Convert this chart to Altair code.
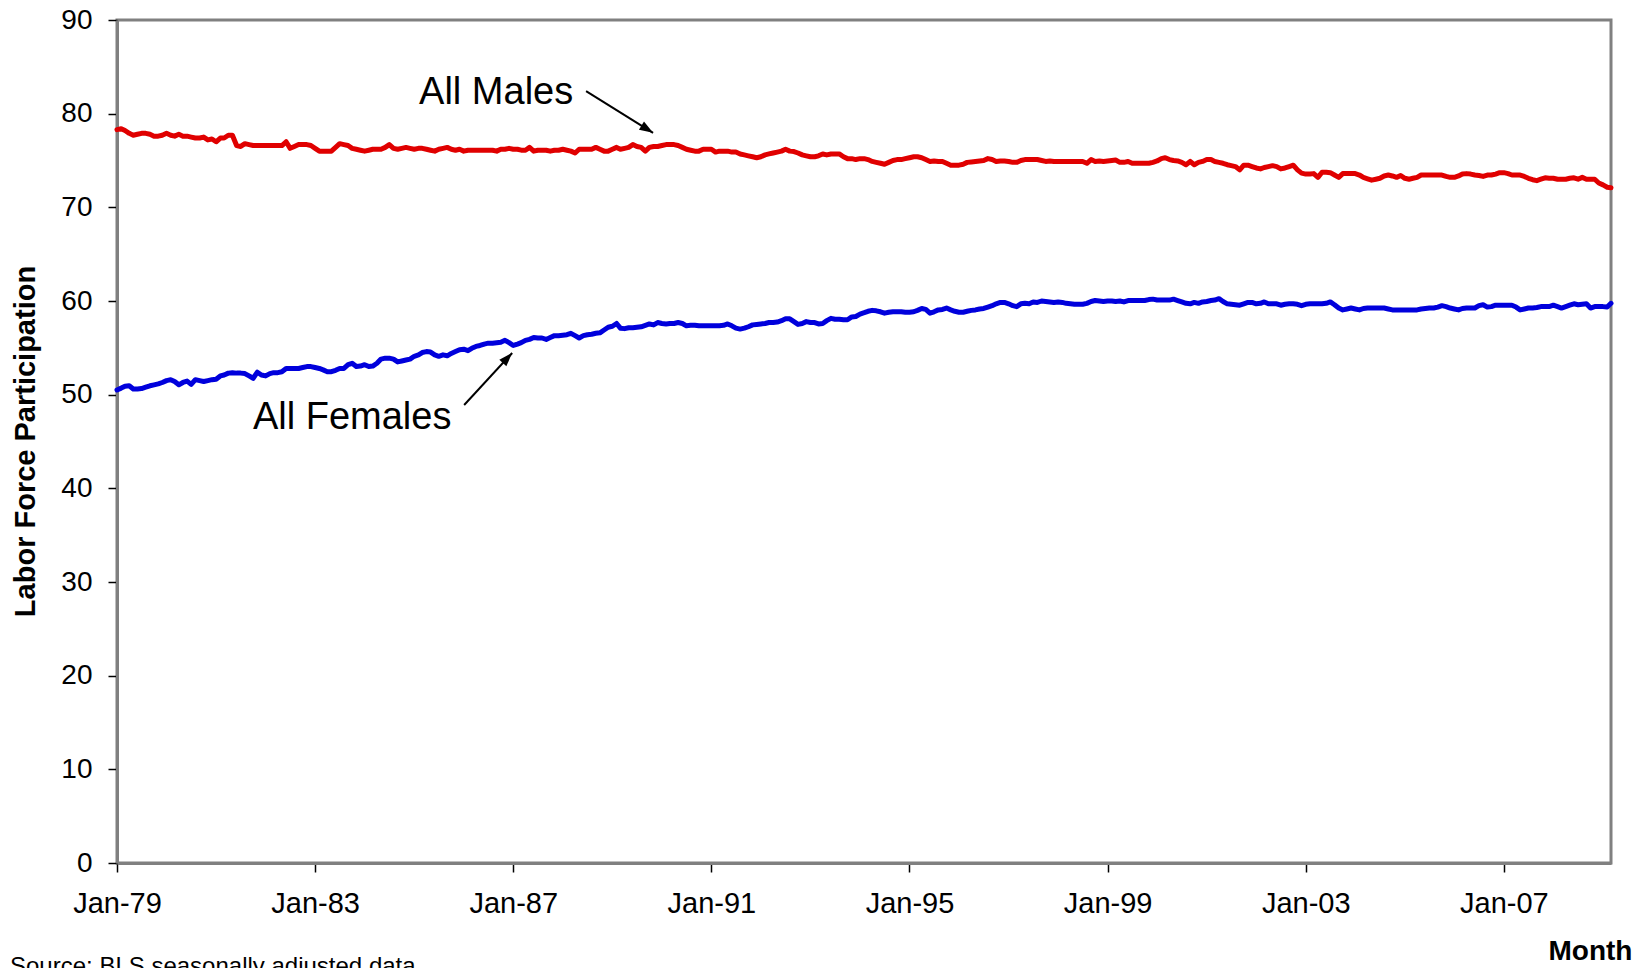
import altair as alt
import pandas as pd

FONT = "Liberation Sans"

start_year = 1979

# Monthly labor force participation, Jan 1979 - Mar 2009
male = [
    78.3, 78.4, 78.2, 77.9, 77.7, 77.8, 77.9, 77.9, 77.8, 77.6, 77.6, 77.7,   # 1979
    77.9, 77.7, 77.6, 77.8, 77.6, 77.6, 77.5, 77.4, 77.4, 77.5, 77.2, 77.3,   # 1980
    77.0, 77.4, 77.4, 77.7, 77.7, 76.6, 76.5, 76.8, 76.7, 76.6, 76.6, 76.6,   # 1981
    76.6, 76.6, 76.6, 76.6, 76.6, 77.0, 76.3, 76.5, 76.7, 76.7, 76.7, 76.6,   # 1982
    76.3, 76.0, 76.0, 76.0, 76.0, 76.4, 76.8, 76.7, 76.6, 76.3, 76.2, 76.1,   # 1983
    76.0, 76.1, 76.2, 76.2, 76.2, 76.4, 76.7, 76.3, 76.2, 76.3, 76.4, 76.3,   # 1984
    76.2, 76.3, 76.3, 76.2, 76.1, 76.0, 76.2, 76.3, 76.4, 76.2, 76.1, 76.2,   # 1985
    76.0, 76.1, 76.1, 76.1, 76.1, 76.1, 76.1, 76.1, 76.0, 76.2, 76.2, 76.3,   # 1986
    76.2, 76.2, 76.1, 76.1, 76.4, 76.0, 76.1, 76.1, 76.1, 76.0, 76.1, 76.1,   # 1987
    76.2, 76.1, 76.0, 75.8, 76.2, 76.2, 76.2, 76.2, 76.4, 76.2, 76.0, 76.0,   # 1988
    76.2, 76.4, 76.2, 76.3, 76.4, 76.7, 76.5, 76.4, 76.0, 76.4, 76.5, 76.5,   # 1989
    76.6, 76.7, 76.7, 76.7, 76.6, 76.4, 76.2, 76.1, 76.0, 76.0, 76.2, 76.2,   # 1990
    76.2, 75.9, 76.0, 76.0, 76.0, 75.9, 75.9, 75.7, 75.6, 75.5, 75.4, 75.3,   # 1991
    75.4, 75.6, 75.7, 75.8, 75.9, 76.0, 76.2, 76.0, 75.95, 75.8, 75.6, 75.5,  # 1992
    75.4, 75.4, 75.5, 75.7, 75.6, 75.7, 75.7, 75.7, 75.4, 75.2, 75.2, 75.1,   # 1993
    75.2, 75.2, 75.1, 74.9, 74.8, 74.7, 74.6, 74.8, 75.0, 75.1, 75.1, 75.2,   # 1994
    75.3, 75.4, 75.4, 75.3, 75.1, 74.9, 74.95, 74.9, 74.9, 74.7, 74.5, 74.5,  # 1995
    74.5, 74.6, 74.8, 74.85, 74.9, 74.95, 75.0, 75.2, 75.1, 74.9, 74.95, 74.95,  # 1996
    74.9, 74.8, 74.8, 75.0, 75.1, 75.1, 75.1, 75.1, 75.0, 74.9, 74.95, 74.9,  # 1997
    74.9, 74.9, 74.9, 74.9, 74.9, 74.9, 74.9, 74.7, 75.1, 74.9, 74.95, 74.9,  # 1998
    74.95, 75.0, 75.05, 74.8, 74.8, 74.9, 74.7, 74.7, 74.7, 74.7, 74.7, 74.8,  # 1999
    74.95, 75.2, 75.3, 75.1, 75.0, 74.95, 74.8, 74.55, 74.9, 74.55, 74.8, 74.9,  # 2000
    75.1, 75.1, 74.9, 74.8, 74.7, 74.55, 74.45, 74.35, 74.0, 74.5, 74.5, 74.35,  # 2001
    74.2, 74.1, 74.25, 74.35, 74.45, 74.35, 74.1, 74.2, 74.35, 74.5, 74.0, 73.65,  # 2002
    73.55, 73.55, 73.6, 73.2, 73.75, 73.75, 73.7, 73.45, 73.2, 73.6, 73.6, 73.6,  # 2003
    73.6, 73.45, 73.2, 73.05, 72.9, 73.0, 73.1, 73.35, 73.45, 73.35, 73.2, 73.4,  # 2004
    73.1, 73.0, 73.1, 73.2, 73.45, 73.45, 73.45, 73.45, 73.45, 73.45, 73.3, 73.2,  # 2005
    73.2, 73.35, 73.55, 73.6, 73.55, 73.45, 73.4, 73.3, 73.45, 73.45, 73.55, 73.7,  # 2006
    73.7, 73.6, 73.45, 73.45, 73.45, 73.3, 73.1, 72.95, 72.85, 73.0, 73.15, 73.1,  # 2007
    73.1, 73.0, 73.0, 73.0, 73.1, 73.15, 73.0, 73.2, 73.0, 73.0, 73.0, 72.6,  # 2008
    72.4, 72.15, 72.1,                                                        # 2009
]

female = [
    50.5, 50.7, 50.9, 50.95, 50.6, 50.6, 50.65, 50.8, 50.95, 51.05, 51.15, 51.3,  # 1979
    51.5, 51.6, 51.4, 51.05, 51.3, 51.45, 51.1, 51.6, 51.5, 51.4, 51.5, 51.6,  # 1980
    51.65, 52.0, 52.1, 52.3, 52.35, 52.3, 52.3, 52.25, 52.0, 51.75, 52.4, 52.1,  # 1981
    52.0, 52.25, 52.35, 52.35, 52.45, 52.8, 52.8, 52.8, 52.8, 52.9, 53.0, 53.0,  # 1982
    52.9, 52.8, 52.65, 52.45, 52.45, 52.6, 52.8, 52.8, 53.2, 53.35, 53.0, 53.05,  # 1983
    53.2, 53.0, 53.05, 53.35, 53.8, 53.9, 53.9, 53.8, 53.5, 53.6, 53.7, 53.8,  # 1984
    54.1, 54.25, 54.5, 54.6, 54.55, 54.25, 54.1, 54.25, 54.15, 54.4, 54.6, 54.8,  # 1985
    54.85, 54.7, 54.95, 55.15, 55.25, 55.4, 55.5, 55.5, 55.55, 55.6, 55.8, 55.55,  # 1986
    55.25, 55.4, 55.55, 55.8, 55.9, 56.1, 56.05, 56.05, 55.9, 56.1, 56.3, 56.3,  # 1987
    56.35, 56.4, 56.55, 56.3, 56.05, 56.3, 56.4, 56.45, 56.55, 56.6, 56.9, 57.2,  # 1988
    57.3, 57.6, 57.1, 57.05, 57.15, 57.15, 57.2, 57.25, 57.4, 57.55, 57.45, 57.7,  # 1989
    57.6, 57.55, 57.6, 57.6, 57.7, 57.6, 57.35, 57.4, 57.4, 57.35, 57.35, 57.35,  # 1990
    57.35, 57.35, 57.35, 57.4, 57.55, 57.35, 57.1, 57.0, 57.1, 57.25, 57.45, 57.5,  # 1991
    57.55, 57.6, 57.7, 57.7, 57.75, 57.9, 58.1, 58.1, 57.8, 57.5, 57.6, 57.8,  # 1992
    57.7, 57.7, 57.55, 57.6, 57.9, 58.15, 58.05, 58.05, 58.0, 58.0, 58.3, 58.35,  # 1993
    58.6, 58.75, 58.9, 59.0, 58.95, 58.85, 58.7, 58.8, 58.85, 58.85, 58.85, 58.8,  # 1994
    58.8, 58.85, 59.0, 59.2, 59.1, 58.7, 58.85, 59.05, 59.1, 59.25, 59.05, 58.9,  # 1995
    58.8, 58.8, 58.9, 59.0, 59.05, 59.15, 59.2, 59.35, 59.5, 59.7, 59.85, 59.85,  # 1996
    59.7, 59.5, 59.4, 59.7, 59.75, 59.7, 59.9, 59.85, 60.0, 59.95, 59.9, 59.85,  # 1997
    59.9, 59.85, 59.75, 59.7, 59.65, 59.65, 59.65, 59.75, 59.95, 60.05, 60.0, 59.95,  # 1998
    60.0, 60.0, 59.95, 60.0, 59.9, 60.05, 60.05, 60.05, 60.05, 60.05, 60.15, 60.2,  # 1999
    60.1, 60.1, 60.1, 60.1, 60.2, 60.05, 59.9, 59.75, 59.7, 59.85, 59.75, 59.9,  # 2000
    59.95, 60.05, 60.1, 60.25, 59.95, 59.7, 59.65, 59.6, 59.55, 59.7, 59.85, 59.85,  # 2001
    59.7, 59.75, 59.9, 59.7, 59.7, 59.7, 59.55, 59.65, 59.7, 59.7, 59.65, 59.5,  # 2002
    59.65, 59.7, 59.7, 59.7, 59.7, 59.75, 59.9, 59.6, 59.25, 59.05, 59.15, 59.25,  # 2003
    59.15, 59.05, 59.2, 59.25, 59.25, 59.25, 59.25, 59.25, 59.15, 59.05, 59.05, 59.05,  # 2004
    59.05, 59.05, 59.05, 59.05, 59.15, 59.2, 59.25, 59.25, 59.35, 59.5, 59.4, 59.25,  # 2005
    59.15, 59.05, 59.2, 59.25, 59.25, 59.25, 59.5, 59.6, 59.35, 59.4, 59.55, 59.55,  # 2006
    59.55, 59.55, 59.55, 59.35, 59.05, 59.15, 59.25, 59.25, 59.3, 59.4, 59.4, 59.4,  # 2007
    59.55, 59.4, 59.25, 59.4, 59.55, 59.7, 59.6, 59.65, 59.7, 59.25, 59.4, 59.4,  # 2008
    59.4, 59.35, 59.75,                                                            # 2009
]

series_names = ["All Males", "All Females"]
series_colors = ["#E00000", "#0000DC"]

tick_years = list(range(1979, 2008, 4))
y_ticks = list(range(0, 91, 10))

# annotations (data coordinates)
ann_text = ["All Males", "All Females"]
ann_text_date = ["1986-08-28", "1983-10-01"]
ann_text_value = [82.2, 47.5]
arrow_tail_date = ["1988-06-21", "1986-01-04"]
arrow_tail_value = [82.4, 48.9]
arrow_tip_date = ["1989-10-28", "1986-12-24"]
arrow_tip_value = [77.95, 54.45]
arrow_angle = [122, 43]

source_note = "Source: BLS seasonally adjusted data"

n = len(male)
dates = [f"{start_year + i // 12}-{i % 12 + 1:02d}-01" for i in range(n)]
df = pd.DataFrame({
    "date": dates * 2,
    "value": male + female,
    "series": [series_names[0]] * n + [series_names[1]] * len(female),
})

ann_df = pd.DataFrame({
    "text": ann_text,
    "tdate": ann_text_date,
    "tval": ann_text_value,
    "d1": arrow_tail_date,
    "v1": arrow_tail_value,
    "d2": arrow_tip_date,
    "v2": arrow_tip_value,
    "angle": arrow_angle,
})

x_scale = alt.Scale(
    type="utc",
    domain=[alt.DateTime(year=1979, month=1, date=1, utc=True),
            alt.DateTime(year=2009, month=3, date=1, utc=True)],
)
y_scale = alt.Scale(domain=[0, 90], nice=False)

x_axis = alt.Axis(
    values=[alt.DateTime(year=y, month=1, date=1, utc=True) for y in tick_years],
    labelExpr="utcFormat(datum.value, '%b-%y')",
    labelFontSize=29,
    labelPadding=17,
    labelFlush=False,
    labelOverlap=False,
    title="Month",
    titleFontSize=28,
    titleFontWeight="bold",
    titleX=1473,
    titleY=88,
    titleAlign="center",
    titleBaseline="middle",
)
y_axis = alt.Axis(
    values=y_ticks,
    labelFontSize=28,
    labelPadding=16,
    title="Labor Force Participation",
    titleFontSize=29,
    titleFontWeight="bold",
    titleX=-92,
    titleY=421,
    titleAngle=270,
    titleAlign="center",
    titleBaseline="middle",
)

lines = alt.Chart(df).mark_line(strokeWidth=5, strokeJoin="round", strokeCap="round").encode(
    x=alt.X("date:T", scale=x_scale, axis=x_axis),
    y=alt.Y("value:Q", scale=y_scale, axis=y_axis),
    color=alt.Color("series:N", scale=alt.Scale(domain=series_names, range=series_colors), legend=None),
)

labels = alt.Chart(ann_df).mark_text(
    font=FONT, fontSize=38, color="black", align="center", baseline="middle"
).encode(
    x=alt.X("tdate:T", scale=x_scale),
    y=alt.Y("tval:Q", scale=y_scale),
    text="text:N",
)

arrow_lines = alt.Chart(ann_df).mark_rule(color="black", strokeWidth=2).encode(
    x=alt.X("d1:T", scale=x_scale),
    y=alt.Y("v1:Q", scale=y_scale),
    x2="d2:T",
    y2="v2:Q",
)

arrow_heads = alt.Chart(ann_df).mark_point(
    shape="M0,0L0.42,1.2L-0.42,1.2Z", filled=True, color="black", opacity=1, size=520, strokeWidth=0
).encode(
    x=alt.X("d2:T", scale=x_scale),
    y=alt.Y("v2:Q", scale=y_scale),
    angle=alt.Angle("angle:Q", scale=None),
)

source = alt.Chart(pd.DataFrame({"t": [source_note]})).mark_text(
    font=FONT, fontSize=24, color="black", align="left", baseline="top"
).encode(
    x=alt.value(-107),
    y=alt.value(935),
    text="t:N",
)

chart = alt.layer(lines, arrow_lines, arrow_heads, labels, source).properties(
    width=1494,
    height=843,
    autosize=alt.AutoSizeParams(type="none"),
    padding={"left": 109, "top": 12, "right": 27, "bottom": 105},
    background="white",
).configure_view(
    stroke="#808080",
    strokeWidth=3,
).configure_axis(
    grid=False,
    domainColor="#808080",
    domainWidth=3,
    tickColor="black",
    tickWidth=1.5,
    tickSize=9,
    labelFont=FONT,
    labelColor="black",
    titleFont=FONT,
    titleColor="black",
)

chart.save("out.html", embed_options={"renderer": "svg", "actions": False})
